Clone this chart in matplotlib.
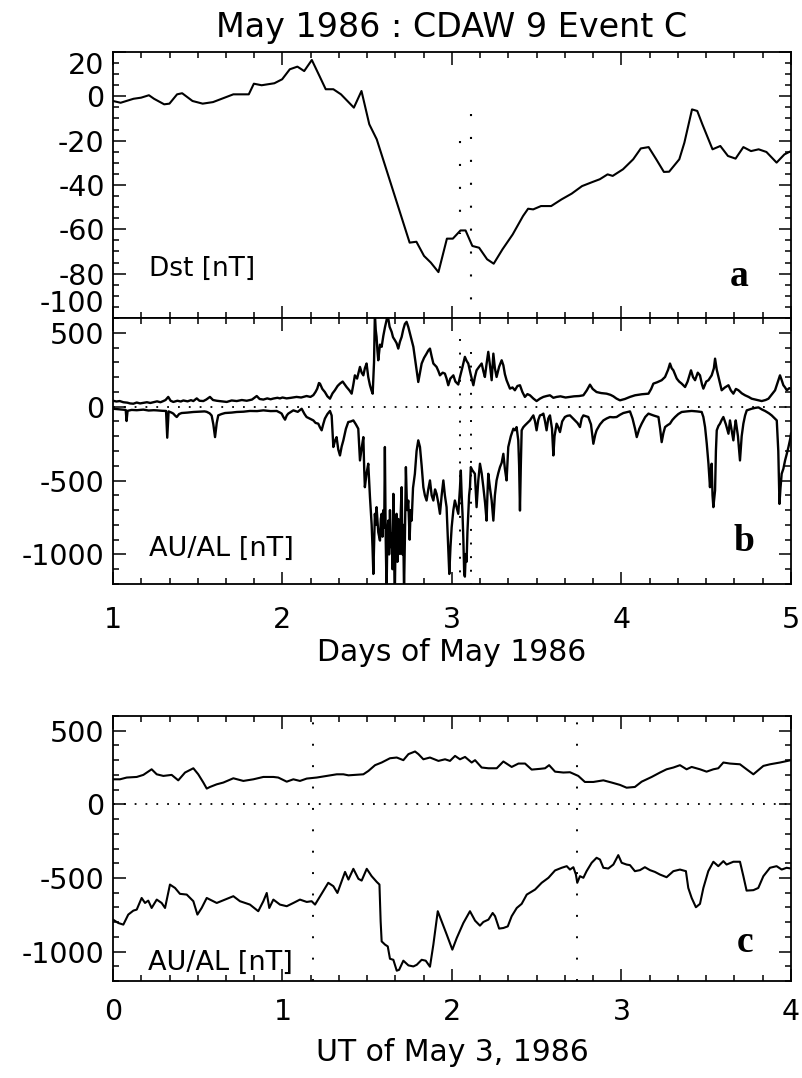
import matplotlib
matplotlib.use("Agg")
import matplotlib.pyplot as plt
from matplotlib.ticker import MultipleLocator

plt.rcParams['font.family'] = ['DejaVu Sans']
plt.rcParams['axes.unicode_minus'] = False

# ---------------- data ----------------
title = "May 1986 : CDAW 9 Event C"

dst_day = [1.000, 1.045, 1.121, 1.166, 1.212, 1.242, 1.302, 1.333, 1.378, 1.408, 1.469, 1.529, 1.590,
           1.710, 1.801, 1.831, 1.877, 1.952, 1.998, 2.043, 2.088, 2.128, 2.173, 2.218, 2.255, 2.300,
           2.345, 2.421, 2.466, 2.512, 2.556, 2.750, 2.790, 2.835, 2.875, 2.920, 2.970, 3.005, 3.050,
           3.080, 3.120, 3.160, 3.207, 3.246, 3.298, 3.358, 3.419, 3.449, 3.479, 3.525, 3.585, 3.646,
           3.706, 3.767, 3.827, 3.872, 3.918, 3.948, 4.009, 4.069, 4.114, 4.160, 4.205, 4.250, 4.281,
           4.341, 4.371, 4.416, 4.447, 4.477, 4.537, 4.583, 4.628, 4.673, 4.719, 4.764, 4.809, 4.855,
           4.915, 4.961, 5.000]
dst_val = [-2.1, -2.9, -1.1, -0.6, 0.5, -1.1, -3.6, -3.3, 0.9, 1.4, -2.1, -3.3, -2.6,
           0.9, 0.9, 5.7, 5.0, 5.9, 7.7, 12.2, 13.4, 11.4, 16.4, 9.2, 3.2, 3.2,
           0.9, -5.1, 2.4, -12.6, -19.4, -66.0, -65.6, -72.0, -75.0, -79.3, -64.2, -64.2, -60.5,
           -60.5, -67.5, -68.3, -73.5, -75.5, -69.0, -62.3, -54.0, -50.7, -51.0, -49.5, -49.5, -46.5,
           -43.9, -40.5, -38.7, -37.4, -35.2, -35.9, -32.9, -28.4, -23.5, -22.9, -28.4, -34.1, -34.0,
           -28.4, -20.9, -5.9, -6.6, -12.6, -23.9, -22.4, -26.9, -28.1, -22.9, -24.7, -23.9, -25.1,
           -29.9, -26.2, -24.7]

au_day = [1.000, 1.020, 1.040, 1.061, 1.085, 1.100, 1.120, 1.140, 1.160, 1.179, 1.200, 1.220, 1.238,
          1.260, 1.280, 1.297, 1.310, 1.326, 1.340, 1.356, 1.380, 1.400, 1.415, 1.440, 1.460, 1.474,
          1.494, 1.510, 1.533, 1.550, 1.572, 1.590, 1.612, 1.640, 1.671, 1.700, 1.730, 1.760, 1.789,
          1.820, 1.848, 1.865, 1.887, 1.910, 1.930, 1.946, 1.970, 1.985, 2.000, 2.024, 2.050, 2.083,
          2.110, 2.142, 2.165, 2.182, 2.195, 2.205, 2.215, 2.221, 2.235, 2.250, 2.265, 2.280, 2.295,
          2.309, 2.325, 2.339, 2.355, 2.378, 2.395, 2.408, 2.418, 2.427, 2.440, 2.457, 2.467, 2.477,
          2.486, 2.496, 2.506, 2.516, 2.525, 2.532, 2.540, 2.545, 2.550, 2.555, 2.560, 2.565, 2.575,
          2.585, 2.595, 2.605, 2.614, 2.619, 2.624, 2.632, 2.644, 2.652, 2.663, 2.673, 2.683, 2.693,
          2.703, 2.712, 2.722, 2.732, 2.742, 2.752, 2.762, 2.772, 2.781, 2.791, 2.801, 2.811, 2.821,
          2.835, 2.850, 2.860, 2.870, 2.880, 2.890, 2.900, 2.909, 2.920, 2.929, 2.945, 2.958, 2.968,
          2.978, 2.990, 3.008, 3.020, 3.037, 3.047, 3.060, 3.076, 3.086, 3.096, 3.110, 3.126, 3.135,
          3.145, 3.160, 3.175, 3.185, 3.194, 3.204, 3.214, 3.224, 3.234, 3.244, 3.253, 3.263, 3.278,
          3.293, 3.303, 3.312, 3.322, 3.332, 3.342, 3.357, 3.371, 3.386, 3.401, 3.415, 3.430, 3.445,
          3.460, 3.480, 3.499, 3.520, 3.539, 3.558, 3.578, 3.598, 3.617, 3.640, 3.670, 3.696, 3.720,
          3.750, 3.775, 3.795, 3.814, 3.830, 3.853, 3.880, 3.912, 3.935, 3.952, 3.970, 3.991, 4.020,
          4.050, 4.080, 4.120, 4.159, 4.175, 4.188, 4.210, 4.237, 4.257, 4.275, 4.286, 4.296, 4.306,
          4.326, 4.340, 4.355, 4.375, 4.390, 4.410, 4.422, 4.434, 4.450, 4.463, 4.475, 4.483, 4.500,
          4.513, 4.532, 4.545, 4.552, 4.562, 4.572, 4.585, 4.591, 4.610, 4.631, 4.645, 4.660, 4.675,
          4.690, 4.710, 4.729, 4.750, 4.768, 4.800, 4.827, 4.850, 4.867, 4.885, 4.906, 4.920, 4.935,
          4.945, 4.955, 4.965, 4.975, 4.990, 5.000]
au_val = [40, 35, 38, 30, 27, 22, 20, 28, 22, 26, 30, 25, 30,
          36, 30, 38, 45, 66, 40, 32, 40, 35, 42, 36, 44, 38,
          56, 40, 38, 48, 66, 45, 40, 36, 32, 42, 38, 45, 40,
          48, 72, 52, 48, 56, 50, 55, 60, 56, 62, 56, 60, 66,
          62, 72, 66, 78, 100, 122, 160, 156, 120, 99, 70, 54, 90,
          111, 140, 156, 170, 133, 110, 88, 150, 212, 190, 269, 230, 212,
          260, 292, 200, 145, 110, 88, 300, 630, 520, 472, 380, 314, 420,
          405, 480, 540, 585, 620, 597, 540, 506, 470, 450, 430, 393, 440,
          472, 520, 560, 574, 540, 495, 450, 405, 330, 246, 167, 230, 292,
          330, 359, 380, 393, 340, 292, 280, 269, 240, 212, 230, 224, 190,
          145, 190, 212, 170, 150, 201, 260, 337, 310, 292, 220, 145, 200,
          246, 270, 292, 240, 201, 290, 371, 280, 179, 359, 260, 201, 270,
          314, 280, 220, 179, 150, 122, 130, 111, 140, 145, 100, 66, 85,
          77, 55, 38, 55, 66, 72, 77, 60, 66, 70, 62, 66, 70,
          72, 77, 110, 149, 120, 99, 92, 88, 80, 70, 55, 43, 52,
          66, 77, 84, 88, 120, 156, 165, 179, 201, 250, 292, 260, 246,
          190, 170, 156, 133, 170, 246, 200, 179, 230, 212, 150, 122, 170,
          179, 212, 260, 325, 250, 201, 140, 111, 130, 145, 110, 88, 120,
          111, 90, 77, 66, 54, 45, 38, 45, 54, 80, 111, 160, 212,
          180, 145, 130, 111, 125, 122]

al_day = [1.000, 1.020, 1.040, 1.061, 1.075, 1.080, 1.086, 1.110, 1.140, 1.179, 1.210, 1.240, 1.258,
          1.290, 1.313, 1.320, 1.328, 1.345, 1.356, 1.366, 1.376, 1.390, 1.405, 1.440, 1.474, 1.510,
          1.540, 1.553, 1.570, 1.582, 1.592, 1.602, 1.612, 1.621, 1.640, 1.661, 1.700, 1.730, 1.770,
          1.808, 1.850, 1.887, 1.930, 1.966, 1.985, 1.995, 2.005, 2.015, 2.025, 2.034, 2.064, 2.090,
          2.113, 2.130, 2.142, 2.160, 2.182, 2.195, 2.211, 2.221, 2.231, 2.240, 2.250, 2.265, 2.280,
          2.290, 2.300, 2.310, 2.319, 2.329, 2.339, 2.349, 2.359, 2.374, 2.388, 2.403, 2.418, 2.433,
          2.447, 2.452, 2.457, 2.467, 2.477, 2.482, 2.486, 2.496, 2.506, 2.511, 2.516, 2.526, 2.531,
          2.536, 2.541, 2.545, 2.550, 2.555, 2.565, 2.575, 2.580, 2.585, 2.590, 2.595, 2.600, 2.604,
          2.609, 2.614, 2.619, 2.624, 2.629, 2.634, 2.639, 2.644, 2.649, 2.654, 2.658, 2.663, 2.668,
          2.673, 2.678, 2.683, 2.688, 2.693, 2.698, 2.703, 2.708, 2.712, 2.717, 2.722, 2.728, 2.735,
          2.742, 2.750, 2.756, 2.762, 2.770, 2.781, 2.791, 2.801, 2.811, 2.821, 2.831, 2.840, 2.850,
          2.860, 2.870, 2.880, 2.890, 2.900, 2.909, 2.919, 2.929, 2.939, 2.949, 2.958, 2.968, 2.976,
          2.984, 2.991, 2.998, 3.008, 3.017, 3.027, 3.037, 3.047, 3.052, 3.057, 3.062, 3.067, 3.072,
          3.076, 3.081, 3.086, 3.091, 3.096, 3.101, 3.106, 3.111, 3.120, 3.135, 3.145, 3.155, 3.165,
          3.175, 3.185, 3.195, 3.204, 3.209, 3.214, 3.224, 3.234, 3.244, 3.253, 3.263, 3.273, 3.283,
          3.293, 3.303, 3.312, 3.322, 3.332, 3.347, 3.362, 3.371, 3.381, 3.391, 3.396, 3.401, 3.406,
          3.411, 3.420, 3.430, 3.445, 3.460, 3.470, 3.480, 3.490, 3.499, 3.509, 3.519, 3.529, 3.539,
          3.549, 3.558, 3.568, 3.578, 3.590, 3.598, 3.605, 3.617, 3.627, 3.637, 3.650, 3.666, 3.680,
          3.696, 3.710, 3.725, 3.740, 3.755, 3.765, 3.775, 3.790, 3.804, 3.820, 3.834, 3.845, 3.853,
          3.873, 3.893, 3.912, 3.932, 3.951, 3.971, 3.991, 4.011, 4.030, 4.050, 4.065, 4.080, 4.090,
          4.105, 4.119, 4.140, 4.159, 4.190, 4.218, 4.228, 4.237, 4.247, 4.257, 4.272, 4.286, 4.300,
          4.316, 4.335, 4.355, 4.385, 4.414, 4.445, 4.473, 4.483, 4.493, 4.503, 4.513, 4.518, 4.522,
          4.527, 4.532, 4.537, 4.542, 4.547, 4.552, 4.557, 4.562, 4.572, 4.581, 4.591, 4.601, 4.616,
          4.631, 4.640, 4.650, 4.660, 4.667, 4.674, 4.687, 4.699, 4.709, 4.719, 4.729, 4.739, 4.768,
          4.790, 4.808, 4.830, 4.847, 4.870, 4.886, 4.900, 4.916, 4.925, 4.932, 4.938, 4.945, 4.955,
          4.965, 4.975, 4.985, 4.995, 5.000]
al_val = [-14, -16, -18, -20, -22, -97, -28, -22, -24, -20, -26, -24, -25,
          -28, -29, -210, -32, -40, -47, -60, -70, -50, -43, -40, -36, -34,
          -32, -35, -45, -60, -120, -206, -110, -59, -50, -43, -40, -36, -34,
          -29, -30, -25, -30, -29, -40, -47, -70, -88, -60, -47, -25, -35,
          -14, -50, -70, -80, -93, -110, -115, -140, -160, -120, -81, -50, -29,
          -60, -273, -230, -206, -290, -330, -270, -228, -150, -104, -100, -93, -120,
          -149, -250, -364, -280, -206, -420, -545, -450, -386, -500, -612, -800, -950,
          -1132, -900, -725, -800, -680, -850, -906, -760, -725, -880, -700, -820, -273,
          -900, -1250, -850, -771, -1000, -700, -950, -861, -1100, -590, -1000, -1250, -800,
          -725, -1050, -760, -950, -997, -700, -545, -1000, -800, -1250, -900, -409, -700,
          -635, -900, -700, -771, -550, -454, -300, -228, -273, -400, -545, -600, -635,
          -560, -499, -600, -635, -560, -590, -650, -725, -600, -499, -600, -680, -900,
          -1132, -950, -816, -700, -635, -680, -725, -550, -432, -600, -725, -900, -1132,
          -1150, -997, -1050, -850, -725, -600, -545, -409, -430, -454, -680, -500, -386,
          -450, -545, -650, -771, -600, -454, -550, -635, -771, -600, -499, -450, -409,
          -380, -319, -420, -499, -273, -200, -149, -160, -138, -228, -400, -703, -400,
          -160, -140, -127, -110, -93, -75, -59, -100, -160, -90, -59, -55, -47,
          -100, -160, -80, -59, -150, -330, -200, -115, -140, -172, -100, -70, -62,
          -59, -75, -93, -110, -138, -80, -59, -65, -70, -120, -251, -190, -160,
          -120, -93, -80, -70, -72, -70, -55, -43, -38, -32, -80, -150, -206,
          -150, -115, -70, -47, -60, -70, -150, -240, -180, -138, -125, -115, -90,
          -70, -50, -36, -32, -29, -32, -36, -70, -138, -250, -386, -480, -545,
          -430, -386, -600, -680, -620, -567, -300, -160, -130, -115, -90, -70, -120,
          -183, -93, -160, -228, -150, -93, -200, -364, -200, -115, -60, -25, -14,
          -8, -5, -20, -29, -45, -59, -75, -93, -300, -658, -550, -454, -420,
          -364, -320, -273, -220, -183]

ut_au = [0.000, 0.041, 0.081, 0.140, 0.179, 0.228, 0.258, 0.297, 0.346, 0.385, 0.425, 0.474, 0.503,
         0.533, 0.553, 0.572, 0.612, 0.651, 0.710, 0.769, 0.828, 0.887, 0.946, 0.975, 1.025, 1.064,
         1.103, 1.143, 1.202, 1.261, 1.320, 1.359, 1.389, 1.477, 1.507, 1.546, 1.585, 1.634, 1.674,
         1.713, 1.743, 1.782, 1.802, 1.831, 1.870, 1.920, 1.959, 1.988, 2.018, 2.047, 2.077, 2.116,
         2.136, 2.175, 2.215, 2.264, 2.303, 2.352, 2.392, 2.431, 2.470, 2.519, 2.549, 2.573, 2.608,
         2.657, 2.696, 2.745, 2.784, 2.834, 2.893, 2.942, 2.991, 3.030, 3.079, 3.119, 3.178, 3.227,
         3.266, 3.306, 3.345, 3.384, 3.414, 3.463, 3.502, 3.542, 3.571, 3.601, 3.640, 3.699, 3.738,
         3.778, 3.807, 3.837, 3.876, 3.935, 4.000]
au_c = [170, 170, 182, 186, 200, 238, 204, 193, 200, 163, 216, 245, 204,
        148, 107, 118, 136, 148, 177, 159, 170, 186, 186, 182, 154, 170,
        159, 175, 182, 193, 204, 204, 197, 204, 227, 266, 284, 313, 318,
        300, 341, 359, 341, 306, 318, 295, 306, 295, 329, 306, 322, 284,
        300, 250, 245, 245, 291, 254, 277, 277, 236, 241, 245, 266, 222,
        216, 218, 193, 152, 152, 163, 148, 132, 113, 118, 154, 186, 216,
        238, 250, 266, 238, 254, 238, 222, 238, 245, 284, 277, 272, 238,
        204, 232, 261, 272, 284, 300]

ut_al = [0.000, 0.031, 0.061, 0.090, 0.120, 0.140, 0.169, 0.189, 0.208, 0.228, 0.258, 0.287, 0.307,
         0.336, 0.366, 0.395, 0.435, 0.474, 0.498, 0.523, 0.553, 0.612, 0.661, 0.710, 0.749, 0.808,
         0.857, 0.887, 0.907, 0.922, 0.946, 0.985, 1.025, 1.064, 1.103, 1.143, 1.172, 1.192, 1.222,
         1.270, 1.300, 1.324, 1.369, 1.389, 1.418, 1.448, 1.467, 1.497, 1.526, 1.556, 1.572, 1.579,
         1.585, 1.605, 1.621, 1.634, 1.654, 1.674, 1.688, 1.713, 1.743, 1.772, 1.792, 1.821, 1.845,
         1.870, 1.890, 1.916, 1.939, 1.969, 2.002, 2.028, 2.067, 2.106, 2.136, 2.165, 2.185, 2.215,
         2.240, 2.254, 2.278, 2.303, 2.329, 2.352, 2.382, 2.411, 2.441, 2.490, 2.529, 2.569, 2.608,
         2.647, 2.677, 2.696, 2.716, 2.731, 2.739, 2.755, 2.775, 2.794, 2.824, 2.853, 2.873, 2.893,
         2.922, 2.952, 2.981, 3.001, 3.030, 3.050, 3.079, 3.109, 3.138, 3.168, 3.197, 3.227, 3.266,
         3.306, 3.345, 3.380, 3.394, 3.414, 3.439, 3.463, 3.483, 3.512, 3.542, 3.571, 3.601, 3.620,
         3.660, 3.699, 3.719, 3.738, 3.778, 3.807, 3.837, 3.876, 3.915, 3.945, 3.974, 4.000]
al_c = [-783, -806, -817, -749, -722, -715, -636, -670, -654, -704, -647, -670, -704,
        -545, -568, -608, -613, -658, -749, -704, -636, -670, -647, -624, -658, -681,
        -726, -658, -602, -704, -647, -681, -692, -670, -647, -663, -658, -681, -624,
        -533, -556, -602, -459, -511, -438, -506, -518, -438, -488, -527, -545, -795,
        -931, -953, -965, -1049, -1056, -1130, -1124, -1062, -1094, -1101, -1090, -1056, -1062,
        -1103, -953, -726, -795, -885, -987, -908, -806, -726, -790, -824, -799, -783,
        -738, -760, -844, -840, -829, -760, -704, -676, -613, -579, -533, -499, -449,
        -431, -420, -443, -427, -477, -533, -488, -499, -454, -397, -363, -375, -431,
        -436, -409, -345, -397, -409, -413, -454, -447, -427, -447, -459, -477, -495,
        -454, -443, -454, -568, -636, -699, -676, -568, -454, -390, -420, -386, -409,
        -390, -390, -488, -586, -583, -568, -488, -431, -420, -443, -431, -436]

# event times (day of May) and their marker spans
event_days = [3.049, 3.114]
event_ut = [1.18, 2.735]
event_span_dst = [(-20, -62), (-8, -95)]
event_span_auab = [(460, -1200), (370, -1200)]

# ---------------- figure ----------------
W, H = 803, 1078
fig = plt.figure(figsize=(W / 100, H / 100), dpi=100)

def frac(l, t, r, b):
    return [l / W, 1 - b / H, (r - l) / W, (b - t) / H]

ax_a = fig.add_axes(frac(113, 52, 791, 318))
ax_b = fig.add_axes(frac(113, 318, 791, 584))
ax_c = fig.add_axes(frac(113, 716, 791, 981))

LW = 1.5
for ax in (ax_a, ax_b, ax_c):
    for s in ax.spines.values():
        s.set_linewidth(1.3)
    ax.tick_params(which='both', direction='in', top=True, right=True, labelsize=20.5, width=1.1)
    ax.tick_params(which='major', length=9)
    ax.tick_params(which='minor', length=4.5)

# panel a
ax_a.plot(dst_day, dst_val, color='black', lw=LW)
for d, (y0, y1) in zip(event_days, event_span_dst):
    ax_a.plot([d, d], [y0, y1], color='black', lw=1.5, linestyle=(0, (1, 10)))
ax_a.set_xlim(1, 5)
ax_a.set_ylim(-100, 20)
ax_a.xaxis.set_major_locator(MultipleLocator(1))
ax_a.xaxis.set_minor_locator(MultipleLocator(1 / 6))
ax_a.set_yticks([-100, -80, -60, -40, -20, 0, 20])
ax_a.yaxis.set_minor_locator(MultipleLocator(5))
ax_a.tick_params(labelbottom=False, pad=6)
labs = ax_a.get_yticklabels()
labs[0].set_va('bottom')
labs[-1].set_va('top')
ax_a.text(0.053, 0.158, "Dst [nT]", transform=ax_a.transAxes, fontsize=19, va='baseline')
ax_a.text(0.923, 0.12, "a", transform=ax_a.transAxes, fontsize=27, fontweight='bold',
          family='Liberation Serif', ha='center', va='baseline')

# panel b
ax_b.plot(au_day, au_val, color='black', lw=1.7)
ax_b.plot(al_day, al_val, color='black', lw=1.7)
ax_b.axhline(0, color='black', lw=1.3, linestyle=(0, (1, 5)))
for d, (y0, y1) in zip(event_days, event_span_auab):
    ax_b.plot([d, d], [y0, y1], color='black', lw=1.4, linestyle=(0, (1, 6)))
ax_b.set_xlim(1, 5)
ax_b.set_ylim(-1200, 600)
ax_b.xaxis.set_major_locator(MultipleLocator(1))
ax_b.xaxis.set_minor_locator(MultipleLocator(1 / 6))
ax_b.set_yticks([-1000, -500, 0, 500])
ax_b.yaxis.set_minor_locator(MultipleLocator(100))
ax_b.tick_params(axis='y', pad=6)
ax_b.tick_params(axis='x', pad=16)
ax_b.text(0.053, 0.105, "AU/AL [nT]", transform=ax_b.transAxes, fontsize=19.5, va='baseline')
ax_b.text(0.93, 0.124, "b", transform=ax_b.transAxes, fontsize=27, fontweight='bold',
          family='Liberation Serif', ha='center', va='baseline')

# panel c
ax_c.plot(ut_au, au_c, color='black', lw=LW)
ax_c.plot(ut_al, al_c, color='black', lw=LW)
ax_c.axhline(0, color='black', lw=1.3, linestyle=(0, (1, 5)))
for u in event_ut:
    ax_c.axvline(u, color='black', lw=1.4, linestyle=(0, (1, 10)))
ax_c.set_xlim(0, 4)
ax_c.set_ylim(-1200, 600)
ax_c.xaxis.set_major_locator(MultipleLocator(1))
ax_c.xaxis.set_minor_locator(MultipleLocator(1 / 6))
ax_c.set_yticks([-1000, -500, 0, 500])
ax_c.yaxis.set_minor_locator(MultipleLocator(100))
ax_c.tick_params(axis='y', pad=6)
ax_c.tick_params(axis='x', pad=12)
ax_c.text(0.052, 0.04, "AU/AL [nT]", transform=ax_c.transAxes, fontsize=19.5, va='baseline')
ax_c.text(0.932, 0.109, "c", transform=ax_c.transAxes, fontsize=27, fontweight='bold',
          family='Liberation Serif', ha='center', va='baseline')

xc = (113 + 791) / 2 / W
fig.text(xc, 1 - 37 / H, title, ha='center', va='baseline', fontsize=24)
fig.text(xc, 1 - 661 / H, "Days of May 1986", ha='center', va='baseline', fontsize=21.5)
fig.text(xc, 1 - 1061 / H, "UT of May 3, 1986", ha='center', va='baseline', fontsize=21.5)

fig.savefig("out.png", dpi=100)
